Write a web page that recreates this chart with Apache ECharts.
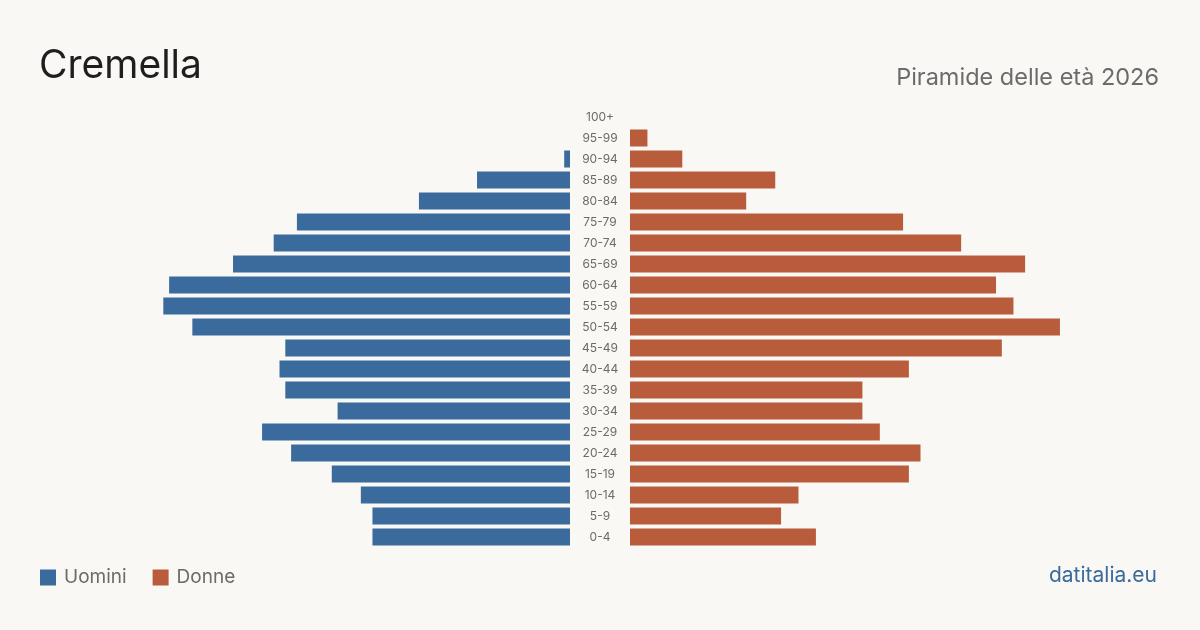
<!DOCTYPE html>
<html><head><meta charset="utf-8">
<script src="https://cdn.jsdelivr.net/npm/echarts@6/dist/echarts.min.js"></script>
<style>html,body{margin:0;padding:0;background:#f9f8f4}#c{width:1200px;height:630px}</style>
</head><body><div id="c"></div>
<script>
const categories = ['0-4','5-9','10-14','15-19','20-24','25-29','30-34','35-39','40-44','45-49','50-54','55-59','60-64','65-69','70-74','75-79','80-84','85-89','90-94','95-99','100+'];
const uomini = [34,34,36,41,48,53,40,49,50,49,65,70,69,58,51,47,26,16,1,0,0];
const donne  = [32,26,29,48,50,43,40,40,48,64,74,66,63,68,57,47,20,25,9,3,0];
const AXMAX = 80;
const blue = '#3b6b9d', orange = '#b85c3c';
const chart = echarts.init(document.getElementById('c'));
chart.setOption({
  backgroundColor: '#f9f8f4',
  animation: false,
  textStyle: { fontFamily: 'Inter, "Noto Sans", sans-serif' },
  title: [
    { text: 'Cremella', left: 39, top: 47, padding: 0, textStyle: { fontSize: 39, fontWeight: 'normal', color: '#1e1e1e', fontFamily: 'Inter' } },
    { text: 'Piramide delle età 2026', right: 41, top: 66, padding: 0, textStyle: { fontSize: 23.5, fontWeight: 'normal', color: '#6b6b6b', fontFamily: 'Inter' } },
    { text: 'datitalia.eu', right: 43, top: 565, padding: 0, textStyle: { fontSize: 21, fontWeight: 'normal', color: '#3b6b9d', fontFamily: 'Inter' } }
  ],
  legend: {
    left: 40, top: 568, padding: 0, itemWidth: 16, itemHeight: 16, itemGap: 26,
    icon: 'rect',
    textStyle: { fontSize: 19, color: '#6b6b6b', fontFamily: 'Inter', padding: [0, 0, 0, 3] },
    data: ['Uomini', 'Donne']
  },
  grid: [
    { left: 570 - AXMAX * 5.81, width: AXMAX * 5.81, top: 106.5, height: 441 },
    { left: 630, width: AXMAX * 5.81, top: 106.5, height: 441 }
  ],
  xAxis: [
    { gridIndex: 0, type: 'value', min: 0, max: AXMAX, inverse: true, show: false },
    { gridIndex: 1, type: 'value', min: 0, max: AXMAX, show: false }
  ],
  yAxis: [
    { gridIndex: 0, type: 'category', data: categories, show: false },
    { gridIndex: 1, type: 'category', data: categories, position: 'left',
      axisLine: { show: false }, axisTick: { show: false },
      axisLabel: { margin: 30, align: 'center', fontSize: 12, color: '#6b6b6b', fontFamily: 'Inter' } }
  ],
  series: [
    { name: 'Uomini', type: 'bar', xAxisIndex: 0, yAxisIndex: 0, data: uomini, barCategoryGap: '19%', itemStyle: { color: blue } },
    { name: 'Donne', type: 'bar', xAxisIndex: 1, yAxisIndex: 1, data: donne, barCategoryGap: '19%', itemStyle: { color: orange } }
  ]
});
</script></body></html>
